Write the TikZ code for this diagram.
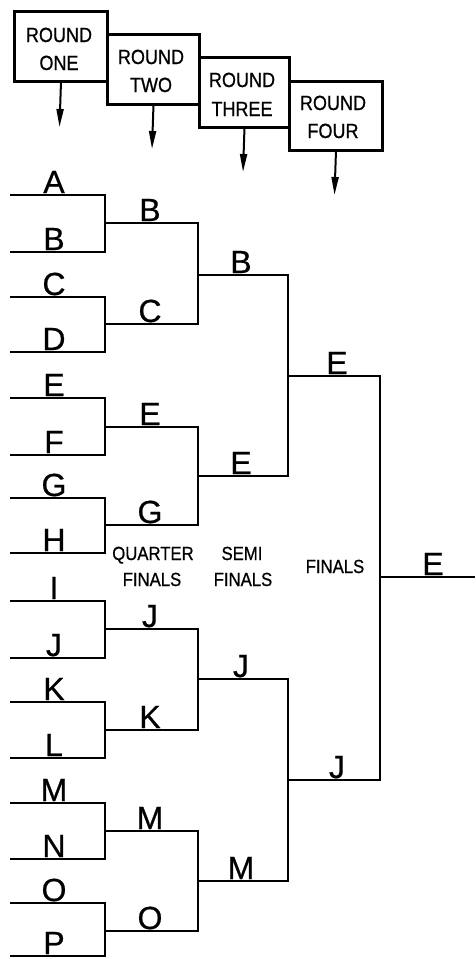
\documentclass[tikz,border=0pt]{standalone}
\usepackage{fontspec}
\setmainfont{Liberation Sans}
\newfontfamily\condfont[FakeStretch=0.88,FakeBold=0.8]{Liberation Sans}
\newfontfamily\letterfont[FakeBold=0.6]{Liberation Sans}
\usetikzlibrary{arrows.meta}
\begin{document}
\begin{tikzpicture}[x=1pt,y=-1pt,
  wire/.style={line width=2.9pt, line join=miter},
  rbox/.style={draw, line width=2.9pt, inner sep=0pt, anchor=north west},
  rtext/.style={anchor=base, inner sep=0pt, font=\condfont\fontsize{20.5}{20.5}\selectfont},
  stage/.style={anchor=base, inner sep=0pt, font=\condfont\fontsize{19}{19}\selectfont},
  lbl/.style={anchor=base, inner sep=0pt, font=\letterfont\fontsize{32}{32}\selectfont},
  arr/.style={line width=2pt, -{Triangle[length=18pt,width=7pt]}}]
\useasboundingbox (0,0) rectangle (475,959);

% ---- round boxes ----
\node[rbox, minimum width=93pt, minimum height=70pt] (b1) at (13,10) {};
\node[rbox, minimum width=92pt, minimum height=70pt] (b2) at (106,33) {};
\node[rbox, minimum width=90pt, minimum height=70pt] (b3) at (198,56) {};
\node[rbox, minimum width=93pt, minimum height=69pt] (b4) at (288,80) {};
\node[rtext] (b1a) at (59,42) {ROUND};
\node[rtext] (b1b) at (59,70) {ONE};
\node[rtext] (b2a) at (151,64) {ROUND};
\node[rtext] (b2b) at (151,92) {TWO};
\node[rtext] (b3a) at (242,87) {ROUND};
\node[rtext] (b3b) at (242,116) {THREE};
\node[rtext] (b4a) at (333,110) {ROUND};
\node[rtext] (b4b) at (333,138) {FOUR};
\coordinate (t1) at (59.5,127);
\coordinate (t2) at (152,149);
\coordinate (t3) at (243,172);
\coordinate (t4) at (334.5,195);
\draw[arr] (b1.south) -- (t1);
\draw[arr] (b2.south) -- (t2);
\draw[arr] (b3.south) -- (t3);
\draw[arr] (b4.south) -- (t4);

% ---- round one ----
\foreach \n/\y in {A/195,B/252,C/297,D/352,E/398,F/455,G/498,H/553,
                   I/601,J/658,K/702,L/758,M/803,N/859,O/903,P/956}{
  \coordinate (p\n0) at (10,\y);
  \coordinate (p\n1) at (105,\y);
  \node[lbl] (l\n) at (54,\y-2) {\n};
}
\foreach \a/\b in {A/B,C/D,E/F,G/H,I/J,K/L,M/N,O/P}{
  \draw[wire] (p\a0) -- (p\a1) -- (p\b1) -- (p\b0);
}

% ---- round two (quarter finals) ----
\foreach \i/\y/\t in {1/223/B,2/324/C,3/427/E,4/525/G,5/629/J,6/730/K,7/831/M,8/931/O}{
  \coordinate (q\i0) at (105,\y);
  \coordinate (q\i1) at (198,\y);
  \node[lbl] (ql\i) at (150,\y-2) {\t};
}
\foreach \a/\b in {1/2,3/4,5/6,7/8}{
  \draw[wire] (q\a0) -- (q\a1) -- (q\b1) -- (q\b0);
}

% ---- round three (semi finals) ----
\foreach \i/\y/\t in {1/275/B,2/476/E,3/679/J,4/881/M}{
  \coordinate (s\i0) at (198,\y);
  \coordinate (s\i1) at (288,\y);
  \node[lbl] (sl\i) at (241,\y-2) {\t};
}
\foreach \a/\b in {1/2,3/4}{
  \draw[wire] (s\a0) -- (s\a1) -- (s\b1) -- (s\b0);
}

% ---- round four (finals) ----
\foreach \i/\y/\t in {1/376/E,2/780/J}{
  \coordinate (f\i0) at (288,\y);
  \coordinate (f\i1) at (380,\y);
  \node[lbl] (fl\i) at (337,\y-2) {\t};
}
\draw[wire] (f10) -- (f11) -- (f21) -- (f20);

% ---- winner ----
\coordinate (w0) at (380,577);
\coordinate (w1) at (475,577);
\draw[wire] (w0) -- (w1);
\node[lbl] (wl) at (433,575) {E};

% ---- stage names ----
\node[stage] (qf1) at (153,560) {QUARTER};
\node[stage] (qf2) at (152,586) {FINALS};
\node[stage] (sf1) at (242,560) {SEMI};
\node[stage] (sf2) at (243,586) {FINALS};
\node[stage] (fn) at (335,573) {FINALS};
\end{tikzpicture}
\end{document}
